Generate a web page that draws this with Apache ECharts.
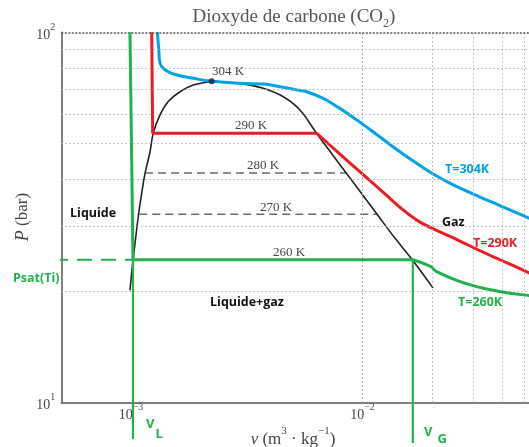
<!DOCTYPE html>
<html><head><meta charset="utf-8">
<script src="https://cdn.jsdelivr.net/npm/echarts/dist/echarts.min.js"></script>
<style>html,body{margin:0;padding:0;background:#fff}#c{width:529px;height:447px}</style>
</head><body><div id="c"></div>
<script>
// ---- data: specific volume v (m3/kg) and pressure P (bar) ----
const domeV = [0.990e-3, 1.017e-3, 1.041e-3, 1.075e-3, 1.112e-3, 1.150e-3, 1.208e-3, 1.248e-3, 1.335e-3, 1.449e-3, 1.628e-3, 1.858e-3, 2.123e-3, 2.232e-3, 2.957e-3, 3.728e-3, 4.549e-3, 5.37e-3, 6.33e-3, 7.46e-3, 8.57e-3, 9.95e-3, 0.01167, 0.01381, 0.01641, 0.02016];
const domeP = [20.1, 23.8, 26.9, 31.8, 36.7, 41.6, 47.5, 53.4, 59.8, 65.0, 69.1, 72.0, 73.3, 73.6, 72.8, 70.6, 67.0, 61.7, 53.4, 46.5, 41.4, 36.6, 32.0, 27.8, 24.3, 20.4];
const critV = [2.23e-3];
const critP = [73.7];

const iso304V = [1.300e-3, 1.318e-3, 1.335e-3, 1.379e-3, 1.474e-3, 1.628e-3, 1.858e-3, 2.20e-3, 2.907e-3, 3.728e-3, 4.402e-3, 5.197e-3, 5.741e-3, 6.77e-3, 7.99e-3, 9.44e-3, 0.01114, 0.01358, 0.01657, 0.02022, 0.02467, 0.03218, 0.03926, 0.05238, 0.06];
const iso304P = [100, 90, 82.5, 79.9, 77.8, 76.3, 75.1, 73.85, 72.8, 72.5, 71.3, 69.9, 69.1, 66.3, 62.3, 58.0, 53.8, 49.0, 44.9, 41.4, 38.7, 35.9, 34.05, 31.5, 30.4];

const iso290LiqV = [1.229e-3, 1.241e-3, 6.33e-3];
const iso290LiqP = [100, 53.4, 53.4];
const iso290GasV = [6.33e-3, 7.99e-3, 0.01005, 0.01251, 0.0151, 0.01772, 0.02162, 0.02638, 0.03218, 0.03926, 0.04512, 0.05238, 0.06];
const iso290GasP = [53.4, 46.9, 41.3, 36.6, 33.0, 30.7, 28.9, 27.3, 25.7, 24.3, 23.4, 22.4, 21.5];

const iso260LiqV = [0.99e-3, 1.005e-3, 1.02e-3, 0.0165];
const iso260LiqP = [100, 50, 24.3, 24.3];
const iso260GasV = [0.0165, 0.0197, 0.02091, 0.02638, 0.03326, 0.04198, 0.05238, 0.06];
const iso260GasP = [24.3, 23.3, 22.56, 21.2, 20.35, 19.8, 19.45, 19.25];

const vL = 1.02e-3, vG = 0.0165, pSat = 24.3;
const vLineBottomP = [7.97, 7.77];   // lower ends of the V_L and V_G guide lines
const psatStartV = 4.6e-4;

const plateauP = [41.7, 32.25];          // 280 K, 270 K
const plateauV = [[1.15e-3, 8.5e-3], [1.086e-3, 0.0116]];

const xGrid = [6e-4, 7e-4, 8e-4, 9e-4, 1e-3, 2e-3, 3e-3, 4e-3, 5e-3, 6e-3, 7e-3, 8e-3, 9e-3, 1e-2, 2e-2, 3e-2, 4e-2, 5e-2];
const yGrid = [20, 30, 40, 50, 60, 70, 80, 90];
const xMin = 5e-4, xMax = 0.06, yMin = 10, yMax = 100;

const GREEN = '#22b14c', RED = '#ed1c24', BLUE = '#00a2e8';
const zip = (a, b) => a.map((v, i) => [v, b[i]]);

const supFmt = function (v) {
  const l = Math.log10(v), r = Math.round(l);
  if (Math.abs(l - r) > 1e-6) return '';
  return '{b|10}{s|' + (r < 0 ? '\u2212' + (-r) : r) + '}';
};
const tickRich = {
  b: { fontSize: 14, fontFamily: 'Liberation Serif', color: '#444', lineHeight: 20, verticalAlign: 'bottom' },
  s: { fontSize: 10, fontFamily: 'Liberation Serif', color: '#444', lineHeight: 12, verticalAlign: 'top' }
};

const chart = echarts.init(document.getElementById('c'), null, { renderer: 'canvas' });
const serifLbl = '13px "Liberation Serif"';
const sansB = 'bold 12.5px "Open Sans"';
function txt(x, y, s, font, fill, align) {
  return { type: 'text', x: x, y: y, silent: true, z: 100,
    style: { text: s, font: font, fill: fill, align: align || 'left', verticalAlign: 'middle' } };
}

const gridData = xGrid.map(v => ({ xAxis: v }))
  .concat(yGrid.map(p => ({ yAxis: p })))
  .concat([{ yAxis: yMax, lineStyle: { color: '#555', type: [2, 1.5], width: 1.5 } }]);

chart.setOption({
  animation: false,
  grid: { left: 61.3, top: 32.3, bottom: 44.5, right: -13.6, containLabel: false, outerBoundsMode: 'none' },
  xAxis: {
    type: 'log', logBase: 10, min: xMin, max: xMax,
    axisLine: { show: true, lineStyle: { color: '#555', width: 1.5 } },
    axisTick: { show: false }, splitLine: { show: false }, minorTick: { show: false },
    axisLabel: { formatter: supFmt, rich: tickRich, margin: 0, showMinLabel: true, showMaxLabel: false, hideOverlap: false }
  },
  yAxis: {
    type: 'log', logBase: 10, min: yMin, max: yMax,
    axisLine: { show: true, lineStyle: { color: '#555', width: 1.5 } },
    axisTick: { show: false }, splitLine: { show: false },
    axisLabel: { formatter: supFmt, rich: tickRich, margin: 6 }
  },
  series: [
    { type: 'line', data: [[1e-3, 50]], symbol: 'none', lineStyle: { opacity: 0 }, silent: true, z: 1,
      markLine: { silent: true, symbol: 'none', label: { show: false },
        lineStyle: { color: '#b4b4b4', type: [1.5, 2.5], width: 1 }, data: gridData } },
    { type: 'line', data: plateauV[0].map(v => [v, plateauP[0]]), symbol: 'none', z: 2,
      lineStyle: { color: '#6a6a6a', width: 1.6, type: [8, 5] } },
    { type: 'line', data: plateauV[1].map(v => [v, plateauP[1]]), symbol: 'none', z: 2,
      lineStyle: { color: '#6a6a6a', width: 1.6, type: [8, 5] } },
    { type: 'line', data: zip(domeV, domeP), symbol: 'none', smooth: 0.4, z: 3,
      lineStyle: { color: '#222', width: 1.6 } },
    { type: 'line', data: zip(iso304V, iso304P), symbol: 'none', smooth: 0.4, z: 4,
      lineStyle: { color: BLUE, width: 3 } },
    { type: 'line', data: zip(iso290LiqV, iso290LiqP), symbol: 'none', z: 4,
      lineStyle: { color: RED, width: 3 } },
    { type: 'line', data: zip(iso290GasV, iso290GasP), symbol: 'none', smooth: 0.4, z: 4,
      lineStyle: { color: RED, width: 3 } },
    { type: 'line', data: zip(iso260LiqV, iso260LiqP), symbol: 'none', z: 5,
      lineStyle: { color: GREEN, width: 3 } },
    { type: 'line', data: zip(iso260GasV, iso260GasP), symbol: 'none', smooth: 0.4, z: 5,
      lineStyle: { color: GREEN, width: 3 } },
    { type: 'line', data: [[vL, pSat], [vL, vLineBottomP[0]]], symbol: 'none', clip: false, z: 5,
      lineStyle: { color: GREEN, width: 2.2 } },
    { type: 'line', data: [[vG, pSat], [vG, vLineBottomP[1]]], symbol: 'none', clip: false, z: 5,
      lineStyle: { color: GREEN, width: 2.2 } },
    { type: 'line', data: [[psatStartV, pSat], [vL, pSat]], symbol: 'none', clip: false, z: 5,
      lineStyle: { color: GREEN, width: 2.2, type: [15, 9] } },
    { type: 'scatter', data: zip(critV, critP), symbol: 'circle', symbolSize: 6, z: 6,
      itemStyle: { color: '#222' } }
  ],
  graphic: [
    { type: 'text', x: 294, y: 19, silent: true, z: 100,
      style: { text: '{a|Dioxyde de carbone (CO}{s|2}{a|)}', align: 'center', verticalAlign: 'middle',
        rich: { a: { fontSize: 19, fontFamily: 'Liberation Serif', fill: '#555', lineHeight: 22, verticalAlign: 'top' },
                s: { fontSize: 12, fontFamily: 'Liberation Serif', fill: '#555', lineHeight: 12, verticalAlign: 'bottom' } } } },
    { type: 'text', x: 293, y: 437, silent: true, z: 100,
      style: { text: '{i|v}{n| (m}{s|3}{n| \u00b7 kg}{s|\u22121}{n|)}', align: 'center', verticalAlign: 'middle',
        rich: { i: { fontSize: 17, fontStyle: 'italic', fontFamily: 'Liberation Serif', fill: '#444', lineHeight: 22, verticalAlign: 'bottom' },
                n: { fontSize: 17, fontFamily: 'Liberation Serif', fill: '#444', lineHeight: 22, verticalAlign: 'bottom' },
                s: { fontSize: 11, fontFamily: 'Liberation Serif', fill: '#444', lineHeight: 13, verticalAlign: 'top' } } } },
    { type: 'text', x: 23, y: 217, rotation: Math.PI / 2, silent: true, z: 100,
      style: { text: '{i|P}{n| (bar)}', align: 'center', verticalAlign: 'middle',
        rich: { i: { fontSize: 18, fontStyle: 'italic', fontFamily: 'Liberation Serif', fill: '#444' },
                n: { fontSize: 17, fontFamily: 'Liberation Serif', fill: '#444' } } } },
    txt(212, 72, '304 K', serifLbl, '#444'),
    txt(235, 126, '290 K', serifLbl, '#444'),
    txt(247, 166, '280 K', serifLbl, '#444'),
    txt(260, 207.5, '270 K', serifLbl, '#444'),
    txt(273, 252.5, '260 K', serifLbl, '#444'),
    txt(70, 213.5, 'Liquide', sansB, '#111'),
    txt(210, 302, 'Liquide+gaz', sansB, '#111'),
    txt(442, 222, 'Gaz', sansB, '#111'),
    txt(445, 169.5, 'T=304K', sansB, BLUE),
    txt(473, 243.5, 'T=290K', sansB, RED),
    txt(458, 302, 'T=260K', sansB, GREEN),
    txt(13, 278, 'Psat(Ti)', sansB, GREEN),
    txt(146, 424, 'V', 'bold 13px "Open Sans"', GREEN),
    txt(155.5, 434, 'L', 'bold 13px "Open Sans"', GREEN),
    txt(424, 432, 'V', 'bold 13px "Open Sans"', GREEN),
    txt(437.5, 439, 'G', 'bold 13px "Open Sans"', GREEN)
  ]
});
</script></body></html>
